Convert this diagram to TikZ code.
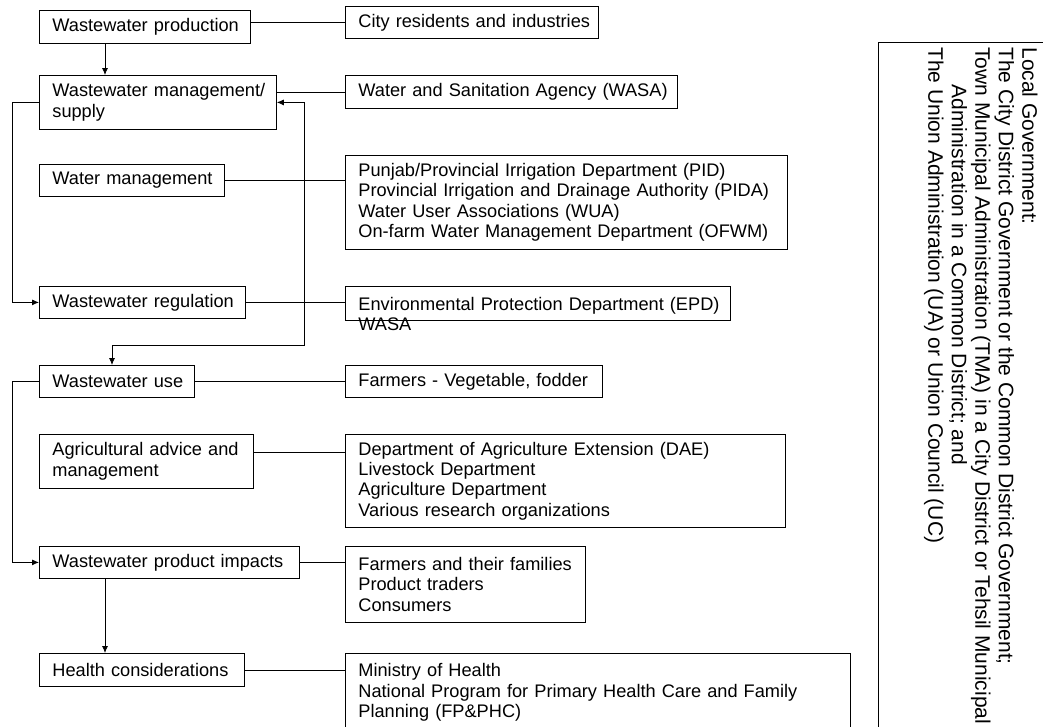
\documentclass[tikz,border=0pt]{standalone}
\usepackage{fontspec}
\setmainfont{Liberation Sans}
\usepackage{tikz}
\usetikzlibrary{arrows.meta}

\begin{document}
\begin{tikzpicture}[x=1pt, y=-1pt, >={Latex[length=7pt,width=6pt]}, line width=0.8pt,
  lbox/.style={draw, anchor=north west, inner xsep=13pt, inner ysep=0pt, align=left,
    font=\fontsize{18.2}{20.3}\selectfont, execute at begin node={\rightskip=-25pt plus 1fil\relax}}]
\useasboundingbox (0,0) rectangle (1043,726);
\clip (0,0) rectangle (1043,726);
% left column
\node[lbox, minimum width=211pt, text width=185pt, minimum height=33pt] (prod) at (39,10) {Wastewater production};
\node[lbox, minimum width=237pt, text width=211pt, minimum height=54pt] (mgmt) at (39,75) {Wastewater management/\\supply};
\node[lbox, minimum width=185pt, text width=159pt, minimum height=32pt] (wm) at (39,164) {Water management};
\node[lbox, minimum width=206pt, text width=180pt, minimum height=32pt] (reg) at (39,286) {Wastewater regulation};
\node[lbox, minimum width=155pt, text width=129pt, minimum height=32pt] (use) at (39,365) {Wastewater use};
\node[lbox, minimum width=214pt, text width=188pt, minimum height=54pt] (agri) at (39,434) {Agricultural advice and\\management};
\node[lbox, minimum width=260pt, text width=234pt, minimum height=32pt] (imp) at (39,546) {Wastewater product impacts};
\node[lbox, minimum width=205pt, text width=179pt, minimum height=33pt] (health) at (39,653) {Health considerations};
% right column
\node[lbox, minimum width=253pt, text width=227pt, minimum height=32pt] (city) at (345,6) {City residents and industries};
\node[lbox, minimum width=332pt, text width=306pt, minimum height=33pt] (wasa) at (345,75) {Water and Sanitation Agency (WASA)};
\node[lbox, minimum width=442pt, text width=416pt, minimum height=94pt] (pid) at (345,155) {Punjab/Provincial Irrigation Department (PID)\\Provincial Irrigation and Drainage Authority (PIDA)\\Water User Associations (WUA)\\On-farm Water Management Department (OFWM)};
\node[lbox, minimum width=385pt, text width=359pt, minimum height=34pt, text depth=0pt] (epd) at (345,286) {Environmental Protection Department (EPD)\\WASA};
\node[lbox, minimum width=257pt, text width=231pt, minimum height=32pt] (farm) at (345,365) {Farmers - Vegetable, fodder};
\node[lbox, minimum width=440pt, text width=414pt, minimum height=93pt] (dae) at (345,434) {Department of Agriculture Extension (DAE)\\Livestock Department\\Agriculture Department\\Various research organizations};
\node[lbox, minimum width=240pt, text width=214pt, minimum height=76pt] (fam) at (345,546) {Farmers and their families\\Product traders\\Consumers};
\node[lbox, minimum width=505pt, text width=479pt, minimum height=78pt] (moh) at (345,653) {Ministry of Health\\National Program for Primary Health Care and Family\\Planning (FP\&PHC)};
% local government
\draw (878,42) rectangle (1060,740);
\node[rotate=-90, anchor=north west, inner sep=0pt, align=left, font=\fontsize{21}{23.5}\selectfont] (lgov) at (1038,47) {Local Government:\\The City District Government or the Common District Government;\\Town Municipal Administration (TMA) in a City District or Tehsil Municipal\\\hspace*{37pt}Administration in a Common District; and\\The Union Administration (UA) or Union Council (UC)};
% connectors
\coordinate (sp) at (105,0);
\coordinate (lft) at (12,0);
\coordinate (dn) at (112,0);
\coordinate (rt) at (304,345);
\draw[->] (prod.south -| sp) -- (mgmt.north -| sp);
\draw[->] (mgmt.west) -- (mgmt.west -| lft) |- (reg.west);
\draw[<->] (mgmt.east) -| (rt) -| (use.north -| dn);
\draw[->] (use.west) -- (use.west -| lft) |- (imp.west);
\draw[->] (imp.south -| sp) -- (health.north -| sp);
\draw (city.west) -- (city.west -| prod.east);
\draw (wasa.west) -- (wasa.west -| mgmt.east);
\draw (wm.east) -- (wm.east -| pid.west);
\draw (reg.east) -- (reg.east -| epd.west);
\draw (use.east) -- (use.east -| farm.west);
\draw ([yshift=-18pt]agri.north east) -- ([yshift=-18pt]agri.north east -| dae.west);
\draw (imp.east) -- (imp.east -| fam.west);
\draw (health.east) -- (health.east -| moh.west);
\end{tikzpicture}
\end{document}
